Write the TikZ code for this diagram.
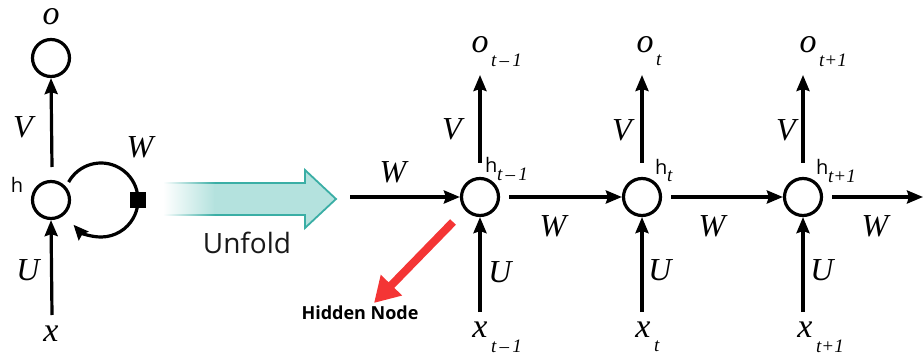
\documentclass[tikz,border=0pt]{standalone}
\usepackage{fontspec}
\setmainfont{Liberation Serif}
\newfontfamily\labsans{Open Sans}
\usetikzlibrary{arrows.meta,shapes.geometric}
\definecolor{teal1}{HTML}{3AAEA5}
\definecolor{teal2}{HTML}{B4E2DE}
\definecolor{redarr}{HTML}{F43535}
\tikzset{
  cell/.style={circle,draw=black,line width=3.2pt,minimum size=37pt,inner sep=0pt},
  conn/.style={line width=3.2pt,-{Stealth[length=16pt,width=13pt,inset=2pt]}},
  wlab/.style={font=\fontsize{32}{32}\selectfont\itshape,inner sep=0pt},
  iolab/.style={font=\fontsize{34}{34}\selectfont\itshape,inner sep=0pt},
  sublab/.style={font=\fontsize{19}{19}\selectfont\itshape,inner sep=0pt,anchor=west},
  hlab/.style={font=\labsans\fontsize{20}{20}\selectfont,inner sep=0pt},
}
\begin{document}
\begin{tikzpicture}[x=1pt,y=1pt]
\useasboundingbox (0,0) rectangle (923,356);
\clip (0,0) rectangle (923,356);
% ---------- left folded RNN ----------
\node[cell] (ho) at (51,298) {};
\node[cell] (hh) at (51,156) {};
\node[iolab] (ol) at (51,339) {o};
\node[iolab] (xl) at (51,22) {x};
\coordinate (vs) at (52,189);
\coordinate (us) at (52,41);
\draw[conn] (vs) -- (ho.south);
\draw[conn] (us) -- (hh.south);
\node[wlab] at (23,229) {V};
\node[wlab] at (28,86) {U};
\node[hlab] at (17,171) {h};
\node[wlab] at (140,209) {W};
\coordinate (lc) at (101,156);
\draw[line width=3.2pt,-{Stealth[length=15pt,width=13pt,inset=2pt]}] (lc) ++(151:37) arc[start angle=151,end angle=-138,radius=37];
\node[draw=none,fill=black,minimum size=16pt,inner sep=0pt] (sq) at (138,156) {};
% ---------- unfold arrow ----------
\shade[left color=white,right color=teal2,shading angle=90]
  (163,141) rectangle (215,173);
\fill[teal2] (214,173) -- (305,173) -- (305,186) -- (336,157) -- (305,128) -- (305,141) -- (214,141) -- cycle;
\draw[teal1,line width=1.8pt] (215,173) -- (305,173) -- (305,186) -- (336,157) -- (305,128) -- (305,141) -- (215,141);
\shade[left color=white,right color=teal1] (163,172.1) rectangle (215,173.9);
\shade[left color=white,right color=teal1] (163,140.1) rectangle (215,141.9);
\node[font=\labsans\fontsize{28}{28}\selectfont,text=black!90,inner sep=0pt] (unf) at (247,113) {Unfold};
% ---------- unfolded cells ----------
\node[cell] (h1) at (480,159) {};
\node[cell] (h2) at (642,159) {};
\node[cell] (h3) at (803,159) {};
% output / input labels
\node[iolab] (o1) at (480,311) {o};
\node[sublab] at (491,296) {t\,\textendash\,1};
\node[iolab] (o2) at (645,311) {o};
\node[sublab] at (656,296) {t};
\node[iolab] (o3) at (808,311) {o};
\node[sublab] at (819,296) {t+1};
\node[iolab] (x1) at (480,26) {x};
\node[sublab] at (491,10) {t\,\textendash\,1};
\node[iolab] (x2) at (643,26) {x};
\node[sublab] at (654,10) {t};
\node[iolab] (x3) at (805,26) {x};
\node[sublab] at (816,10) {t+1};
% h labels
\node[hlab,anchor=west] at (485,191) {h};
\node[sublab] at (497,182) {t\,\textendash\,1};
\node[hlab,anchor=west] at (655,189) {h};
\node[sublab] at (667,180) {t};
\node[hlab,anchor=west] at (816,189) {h};
\node[sublab] at (828,180) {t+1};
% vertical arrows
\foreach \i/\cx in {1/480,2/642,3/803}{
  \coordinate (vt\i) at (\cx,281);
  \coordinate (vb\i) at (\cx,193);
  \coordinate (ub\i) at (\cx,44);
  \draw[conn] (vb\i) -- (vt\i);
  \draw[conn] (ub\i) -- (h\i.south);
}
\node[wlab] at (452,227) {V};
\node[wlab] at (622,226) {V};
\node[wlab] at (786,226) {V};
\node[wlab] at (500,84) {U};
\node[wlab] at (660,86) {U};
\node[wlab] at (822,86) {U};
% horizontal arrows
\coordinate (win) at (350,159);
\coordinate (wout) at (923,159);
\draw[conn] (win) -- (h1.west);
\draw[conn] (h1.east) ++(9,0) -- (h2.west);
\draw[conn] (h2.east) ++(9,0) -- (h3.west);
\draw[conn] (h3.east) ++(9,0) -- (wout);
\node[wlab] at (393,184) {W};
\node[wlab] at (553,130) {W};
\node[wlab] at (712,130) {W};
\node[wlab] at (875,130) {W};
% hidden node pointer
\coordinate (rs) at (453,134);
\coordinate (re) at (374,53);
\draw[redarr,line width=8pt,-{Triangle[length=25pt,width=28pt]}] (rs) -- (re);
\node[font=\labsans\bfseries\fontsize{18}{18}\selectfont,inner sep=0pt] (hn) at (360,43) {Hidden Node};
\end{tikzpicture}
\end{document}
